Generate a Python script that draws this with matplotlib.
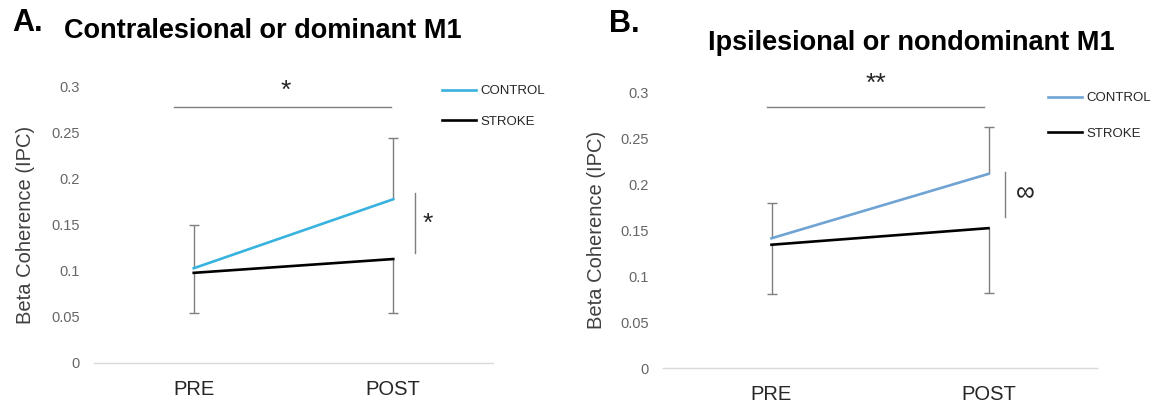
import matplotlib
matplotlib.use("Agg")
import matplotlib.pyplot as plt

plt.rcParams['font.family'] = ['Liberation Sans', 'DejaVu Sans']

phases = ['PRE', 'POST']
yticks = [0, 0.05, 0.1, 0.15, 0.2, 0.25, 0.3]
ytick_labels = ['0', '0.05', '0.1', '0.15', '0.2', '0.25', '0.3']

# panel A: contralesional / dominant M1
control_a = [0.103, 0.178]
control_a_err = [0.047, 0.067]
stroke_a = [0.098, 0.113]
stroke_a_err = [0.044, 0.059]

# panel B: ipsilesional / nondominant M1
control_b = [0.141, 0.211]
control_b_err = [0.038, 0.051]
stroke_b = [0.134, 0.152]
stroke_b_err = [0.054, 0.071]

# significance marks: (x0, x1, y, label, label_x, label_y)
sig_time_a = (-0.10, 0.99, 0.278, '*', 0.46, 0.296)
sig_group_a = (1.11, 0.120, 0.185, '*', 1.175, 0.151)
sig_time_b = (-0.02, 0.98, 0.284, '**', 0.48, 0.309)
sig_group_b = (1.076, 0.164, 0.213, '\u221e', 1.17, 0.190)

err_color = '#7f7f7f'


def draw_panel(ax, control, control_err, stroke, stroke_err, control_color,
               sig_time, sig_group, legend_anchor, label_spacing):
    x = range(len(phases))
    zeros = [0] * len(phases)

    ax.plot(x, stroke, color='black', linewidth=1.9, zorder=3, label='STROKE')
    ax.plot(x, control, color=control_color, linewidth=1.9, zorder=4, label='CONTROL')

    # control error bars go up, stroke error bars go down
    _, caps, _ = ax.errorbar(x, control, yerr=[zeros, control_err], fmt='none',
                             ecolor=err_color, elinewidth=1, capsize=3.5, zorder=2)
    caps[0].set_visible(False)
    _, caps, _ = ax.errorbar(x, stroke, yerr=[stroke_err, zeros], fmt='none',
                             ecolor=err_color, elinewidth=1, capsize=3.5, zorder=2)
    caps[1].set_visible(False)

    ax.set_xlim(-0.5, 1.5)
    ax.set_ylim(0, 0.3)
    ax.set_xticks(list(x))
    ax.set_xticklabels(phases, fontsize=14.5, color='#262626')
    ax.set_yticks(yticks)
    ax.set_yticklabels(ytick_labels, fontsize=10.5, color='#666666')
    ax.tick_params(axis='both', length=0)
    ax.tick_params(axis='y', pad=10)
    ax.tick_params(axis='x', pad=12)

    for side in ['top', 'right', 'left']:
        ax.spines[side].set_visible(False)
    ax.spines['bottom'].set_color('#d9d9d9')
    ax.spines['bottom'].set_linewidth(1)

    ax.set_ylabel('Beta Coherence (IPC)', fontsize=14.5, color='#404040')
    ax.yaxis.label.set_va('center')

    x0, x1, y, txt, tx, ty = sig_time
    ax.plot([x0, x1], [y, y], color=err_color, linewidth=1, clip_on=False)
    ax.text(tx, ty, txt, fontsize=19, ha='center', va='center', color='#262626')

    gx, y0, y1, txt, tx, ty = sig_group
    ax.plot([gx, gx], [y0, y1], color=err_color, linewidth=1, clip_on=False)
    ax.text(tx, ty, txt, fontsize=19, ha='center', va='center', color='#262626')

    handles, labels = ax.get_legend_handles_labels()
    ax.legend(handles[::-1], labels[::-1], loc='upper left', bbox_to_anchor=legend_anchor,
              bbox_transform=ax.figure.transFigure, frameon=False, fontsize=9.5,
              handlelength=2.6, handletextpad=0.3, labelspacing=label_spacing,
              borderpad=0, borderaxespad=0, labelcolor='#262626')


W, H = 1163, 405
fig = plt.figure(figsize=(W / 100, H / 100), dpi=100)

ax_a = fig.add_axes([94 / W, 1 - 363 / H, 399 / W, 276 / H])
ax_b = fig.add_axes([663 / W, 1 - 368 / H, 434 / W, 276 / H])

draw_panel(ax_a, control_a, control_a_err, stroke_a, stroke_a_err, '#38b2de',
           sig_time_a, sig_group_a, (442 / W, 1 - 85 / H), 1.38)
draw_panel(ax_b, control_b, control_b_err, stroke_b, stroke_b_err, '#6fa3d4',
           sig_time_b, sig_group_b, (1048 / W, 1 - 92 / H), 1.75)

ax_a.yaxis.set_label_coords(-(94 - 26) / 399, 0.5)
ax_b.yaxis.set_label_coords(-(663 - 597) / 434, 0.5)

fig.text(12 / W, 1 - 23 / H, 'A.', fontsize=22, fontweight='bold', ha='left', va='center')
fig.text(263 / W, 1 - 31 / H, 'Contralesional or dominant M1', fontsize=19.5,
         fontweight='bold', ha='center', va='center')
fig.text(609 / W, 1 - 24 / H, 'B.', fontsize=22, fontweight='bold', ha='left', va='center')
fig.text(911 / W, 1 - 43 / H, 'Ipsilesional or nondominant M1', fontsize=19.5,
         fontweight='bold', ha='center', va='center')

fig.savefig('out.png', dpi=100)
